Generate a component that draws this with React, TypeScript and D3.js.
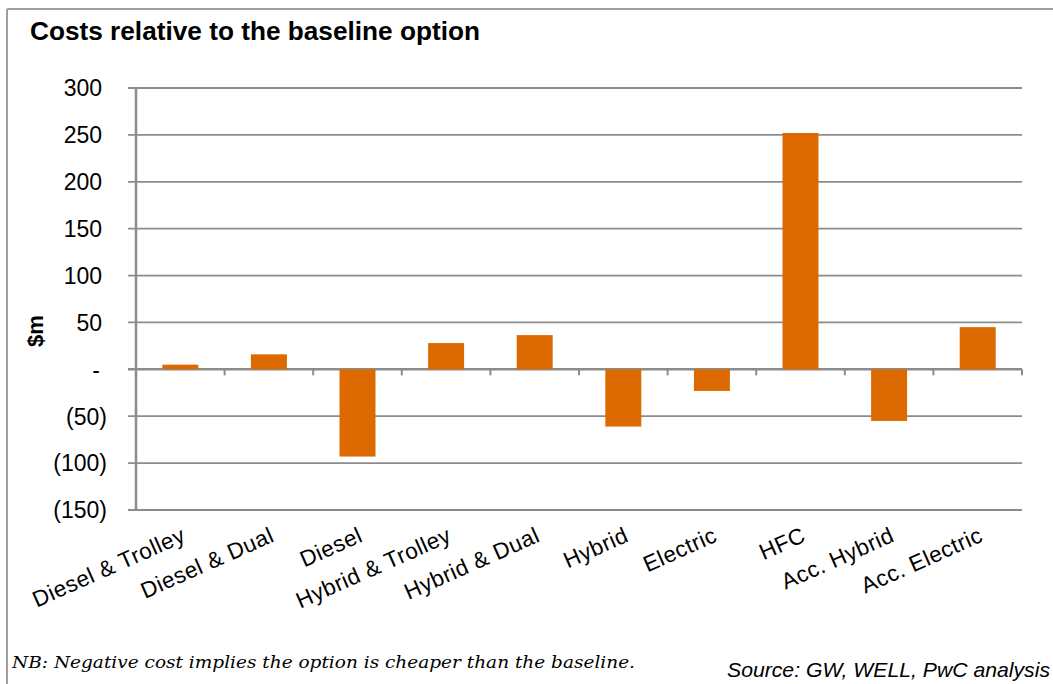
import React from "react";
import * as d3 from "d3";

const categories = [
  "Diesel & Trolley",
  "Diesel & Dual",
  "Diesel",
  "Hybrid & Trolley",
  "Hybrid & Dual",
  "Hybrid",
  "Electric",
  "HFC",
  "Acc. Hybrid",
  "Acc. Electric",
];
const values = [5, 16, -93, 28, 36.5, -61, -23, 252, -55, 45];
const yTicks = [300, 250, 200, 150, 100, 50, 0, -50, -100, -150];

const W = 1053;
const H = 684;
const left = 136;
const right = 1022;
const top = 88;
const bottom = 510;

const fmt = (v: number) => (v === 0 ? "-" : v < 0 ? `(${Math.abs(v)})` : `${v}`);

export default function App() {
  const x = d3.scaleBand<string>().domain(categories).range([left, right]).paddingInner(0.594).paddingOuter(0.297);
  const xOuter = d3.scaleBand<string>().domain(categories).range([left, right]);
  const y = d3.scaleLinear().domain([-150, 300]).range([bottom, top]);
  const grid = "#8c8c8c";
  const bar = "#dc6a00";
  const sans = "'Liberation Sans', Arial, sans-serif";
  return (
    <svg width={W} height={H} style={{ position: "absolute", left: 0, top: 0, background: "#fff" }}>
      {/* frame */}
      <line x1={7} x2={7} y1={9} y2={H} stroke="#a0a0a0" strokeWidth={2} />
      <line x1={7} x2={W} y1={9} y2={9} stroke="#a0a0a0" strokeWidth={2} />
      <text x={30} y={40} fontFamily={sans} fontWeight="bold" fontSize={26} textLength={450} lengthAdjust="spacingAndGlyphs" fill="#000">
        Costs relative to the baseline option
      </text>
      {/* gridlines */}
      {yTicks.map((t) => (
        <g key={t}>
          <line x1={128} x2={right} y1={y(t)} y2={y(t)} stroke={grid} strokeWidth={t === 0 ? 2.5 : 1.8} />
          <text
            x={t === 0 ? 100 : t < 0 ? 107 : 102}
            y={y(t)}
            dy="0.36em"
            textAnchor="end"
            fontFamily={sans}
            fontSize={23}
            fill="#000"
          >
            {fmt(t)}
          </text>
        </g>
      ))}
      {/* y axis */}
      <line x1={left} x2={left} y1={top} y2={bottom} stroke={grid} strokeWidth={2.5} />
      {/* category ticks */}
      {categories.map((c) => (
        <line
          key={"t" + c}
          x1={(xOuter(c) as number) + xOuter.bandwidth()}
          x2={(xOuter(c) as number) + xOuter.bandwidth()}
          y1={y(0)}
          y2={y(0) + 6}
          stroke={grid}
          strokeWidth={2}
        />
      ))}
      {/* bars */}
      {categories.map((c, i) => (
        <rect
          key={"b" + c}
          x={x(c)}
          width={x.bandwidth()}
          y={y(Math.max(0, values[i]))}
          height={Math.abs(y(values[i]) - y(0))}
          fill={bar}
        />
      ))}
      {/* category labels */}
      {categories.map((c) => {
        const cx = (xOuter(c) as number) + xOuter.bandwidth() / 2;
        const cy = 526;
        return (
          <text
            key={"l" + c}
            transform={`translate(${cx},${cy}) rotate(-24)`}
            textAnchor="end"
            dy="0.72em"
            fontFamily={sans}
            fontSize={22.5}
            letterSpacing={0.5}
            fill="#000"
          >
            {c}
          </text>
        );
      })}
      {/* y title */}
      <text
        transform={`translate(43,331) rotate(-90)`}
        textAnchor="middle"
        fontFamily={sans}
        fontWeight="bold"
        fontSize={22}
        fill="#000"
      >
        $m
      </text>
      <text
        x={12}
        y={668}
        fontFamily="'DejaVu Serif', serif"
        fontStyle="italic"
        fontSize={17.5}
        textLength={623}
        lengthAdjust="spacingAndGlyphs"
        fill="#000"
      >
        NB: Negative cost implies the option is cheaper than the baseline.
      </text>
      <text
        x={1050}
        y={677}
        textAnchor="end"
        fontFamily={sans}
        fontStyle="italic"
        fontSize={21}
        textLength={323}
        lengthAdjust="spacingAndGlyphs"
        fill="#000"
      >
        Source: GW, WELL, PwC analysis
      </text>
    </svg>
  );
}
